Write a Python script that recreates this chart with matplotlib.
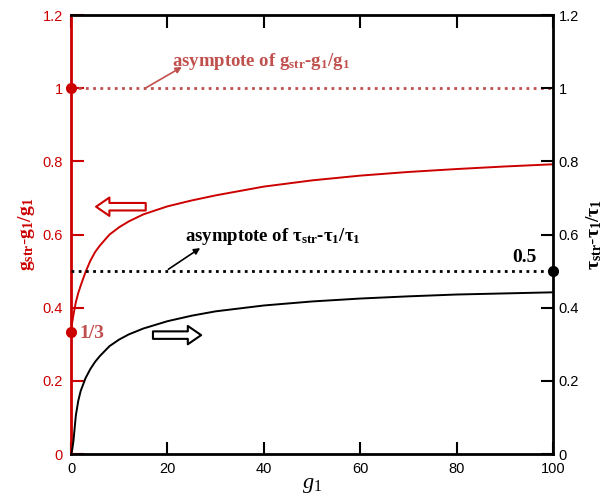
import matplotlib
matplotlib.use("Agg")
import matplotlib.pyplot as plt

plt.rcParams["font.family"] = ["Liberation Sans", "DejaVu Sans"]
plt.rcParams["mathtext.fontset"] = "custom"
plt.rcParams["mathtext.rm"] = "Liberation Serif"
plt.rcParams["mathtext.it"] = "Liberation Serif:italic"
plt.rcParams["mathtext.bf"] = "Liberation Serif:bold"

# values
g1 = [0, 0.25, 0.5, 1, 1.5, 2, 3, 4, 5, 6, 8, 10, 12, 15, 20, 25, 30,
      40, 50, 60, 70, 80, 90, 100]
g_ratio = [0.333, 0.36, 0.38, 0.415, 0.44, 0.46, 0.497, 0.528, 0.552, 0.57,
           0.60, 0.62, 0.636, 0.655, 0.677, 0.693, 0.707, 0.731, 0.748,
           0.761, 0.771, 0.779, 0.786, 0.792]
tau_ratio = [0.0, 0.012, 0.035, 0.105, 0.145, 0.172, 0.207, 0.232, 0.252,
             0.268, 0.295, 0.313, 0.327, 0.343, 0.363, 0.378, 0.39, 0.406,
             0.417, 0.425, 0.431, 0.436, 0.439, 0.442]
g_asym = 1.0
tau_asym = 0.5
g_start = 1 / 3

red = "#cc0000"
brick = "#c0504d"
serif = ["Liberation Serif", "DejaVu Serif"]

fig = plt.figure(figsize=(6.10, 5.01), dpi=100)
ax = fig.add_axes([0.1164, 0.0938, 0.7902, 0.8762])
ax2 = ax.twinx()

ax.plot(g1, g_ratio, color=red, lw=1.4)
ax.plot([0, 100], [g_asym, g_asym], color=brick, lw=2, ls=(0, (1, 1.6)))
ax.plot([0], [g_asym], "o", color=red, ms=7, clip_on=False, zorder=5)
ax.plot([0], [g_start], "o", color=red, ms=7, clip_on=False, zorder=5)

ax2.plot(g1, tau_ratio, color="black", lw=1.4)
ax2.plot([0, 100], [tau_asym, tau_asym], color="black", lw=2, ls=(0, (1, 1.6)))
ax2.plot([100], [tau_asym], "o", color="black", ms=7, clip_on=False, zorder=5)

for a in (ax, ax2):
    a.set_xlim(0, 100)
    a.set_ylim(0, 1.2)
    a.set_yticks([0, 0.2, 0.4, 0.6, 0.8, 1, 1.2])
    a.set_yticklabels(["0", "0.2", "0.4", "0.6", "0.8", "1", "1.2"])

ax.set_xticks([0, 20, 40, 60, 80, 100])
ax.tick_params(axis="x", direction="in", length=9, width=1.5, top=True,
               labelsize=10.5, pad=6, colors="black")
ax.tick_params(axis="y", direction="in", length=9, width=1.5, labelsize=10.5,
               colors=red, pad=6)
ax2.tick_params(axis="y", direction="in", length=9, width=1.5, labelsize=10.5,
                colors="black", pad=4)

for s in ("top", "bottom"):
    ax.spines[s].set_linewidth(2)
ax.spines["left"].set_color(red)
ax.spines["left"].set_linewidth(2)
ax.spines["right"].set_visible(False)
ax2.spines["left"].set_visible(False)
ax2.spines["top"].set_visible(False)
ax2.spines["bottom"].set_visible(False)
ax2.spines["right"].set_linewidth(2)

ax.set_xlabel(r"$g_1$", fontsize=16, labelpad=-2)
ax.set_ylabel(r"$\mathbf{g_{str}}$-$\mathbf{g_1/g_1}$", color=red, fontsize=14, labelpad=4)
ax2.set_ylabel(r"$\mathbf{τ_{str}}$-$\mathbf{τ_1/τ_1}$", color="black", fontsize=14,
               rotation=90, labelpad=4)

# asymptote labels with thin arrows pointing from the line to the text
ax.text(20.9, 1.072, r"asymptote of $\mathbf{g_{str}}$-$\mathbf{g_1/g_1}$",
        color=brick, fontsize=13.5, fontweight="bold", family=serif, va="center")
ax.annotate("", xy=(23.0, 1.058), xytext=(15.4, 1.0),
            arrowprops=dict(arrowstyle="-|>", color=brick, lw=1.2, mutation_scale=9,
                            shrinkA=0, shrinkB=0))
ax2.text(23.7, 0.594, r"asymptote of $\mathbf{τ_{str}}$-$\mathbf{τ_1/τ_1}$",
         color="black", fontsize=13.5, fontweight="bold", family=serif, va="center")
ax2.annotate("", xy=(26.8, 0.563), xytext=(20.2, 0.505),
             arrowprops=dict(arrowstyle="-|>", color="black", lw=1.2, mutation_scale=9,
                             shrinkA=0, shrinkB=0))

# hollow arrows pointing to each curve's axis
ax.annotate("", xy=(5.2, 0.676), xytext=(15.5, 0.676),
            arrowprops=dict(arrowstyle="simple,head_length=0.8,head_width=1.1,tail_width=0.45",
                            fc="white", ec=red, lw=1.5, mutation_scale=12,
                            shrinkA=0, shrinkB=0))
ax2.annotate("", xy=(27, 0.325), xytext=(17, 0.325),
             arrowprops=dict(arrowstyle="simple,head_length=0.8,head_width=1.1,tail_width=0.45",
                             fc="white", ec="black", lw=1.5, mutation_scale=12,
                             shrinkA=0, shrinkB=0))

ax.text(1.8, g_start - 0.005, "1/3", color=brick, fontsize=14, fontweight="bold",
        family=serif, va="center")
ax2.text(96.7, 0.538, "0.5", color="black", fontsize=14, fontweight="bold",
         family=serif, ha="right", va="center")

fig.savefig("out.png", dpi=100)
